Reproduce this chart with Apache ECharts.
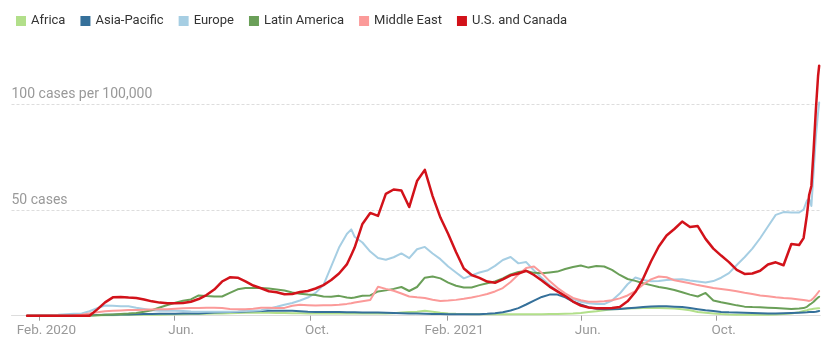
<!DOCTYPE html>
<html><head><meta charset="utf-8">
<script src="https://cdn.jsdelivr.net/npm/echarts@6/dist/echarts.min.js"></script>
<style>html,body{margin:0;padding:0;background:#fff}#c{width:831px;height:346px}</style>
</head><body><div id="c"></div>
<script>
// Weekly sample dates (plus a few extra points where the lines move fast)
const dates = [
'2020-01-21','2020-01-28','2020-02-04','2020-02-11','2020-02-18','2020-02-25','2020-03-03','2020-03-10','2020-03-17','2020-03-24',
'2020-03-31','2020-04-07','2020-04-14','2020-04-21','2020-04-28','2020-05-05','2020-05-12','2020-05-19','2020-05-26','2020-06-02',
'2020-06-09','2020-06-16','2020-06-23','2020-06-30','2020-07-07','2020-07-14','2020-07-21','2020-07-28','2020-08-04','2020-08-11',
'2020-08-18','2020-08-25','2020-09-01','2020-09-08','2020-09-15','2020-09-22','2020-09-29','2020-10-06','2020-10-13','2020-10-20',
'2020-10-27','2020-11-03','2020-11-07',
'2020-11-10','2020-11-17','2020-11-24','2020-12-01','2020-12-08','2020-12-15','2020-12-22','2020-12-29',
'2021-01-05','2021-01-12','2021-01-19','2021-01-26','2021-02-02','2021-02-09','2021-02-16','2021-02-23','2021-03-02','2021-03-09',
'2021-03-16','2021-03-23','2021-03-30','2021-04-06','2021-04-13','2021-04-20','2021-04-27','2021-05-04','2021-05-11','2021-05-18',
'2021-05-25','2021-06-01','2021-06-08','2021-06-15','2021-06-22','2021-06-29','2021-07-06','2021-07-13','2021-07-20','2021-07-27',
'2021-08-03','2021-08-10','2021-08-17','2021-08-24','2021-08-31','2021-09-07','2021-09-14','2021-09-21','2021-09-28','2021-10-05',
'2021-10-12','2021-10-19','2021-10-26','2021-11-02','2021-11-09','2021-11-16','2021-11-23','2021-11-30','2021-12-07','2021-12-14',
'2021-12-18','2021-12-21','2021-12-23','2021-12-25','2021-12-27','2021-12-29','2021-12-31','2022-01-01'
];

const africa = [
0,0,0,0,0,0,0,0,0,0.1,
0.2,0.2,0.3,0.3,0.4,0.4,0.5,0.5,0.6,0.7,
0.7,0.8,0.8,0.9,1.0,1.1,1.2,1.3,1.4,1.4,
1.4,1.4,1.3,1.3,1.2,1.2,1.1,1.1,1.0,1.0,
1.0,1.0,1.0,
1.0,1.0,1.0,1.0,1.1,1.2,1.5,1.8,
1.9,2.3,1.9,1.4,1.1,0.9,0.8,0.7,0.7,0.7,
0.7,0.7,0.7,0.7,0.7,0.7,0.7,0.8,0.8,0.9,
1.0,1.3,1.7,2.1,2.6,3.0,3.2,3.4,3.5,3.6,
3.6,3.6,3.5,3.4,3.1,2.6,1.8,1.4,1.1,0.8,
0.6,0.5,0.5,0.5,0.5,0.5,0.6,0.8,1.0,1.6,
2.2,2.6,2.9,3.1,3.3,3.4,3.5,3.5
];

const asiaPacific = [
0,0,0.1,0.1,0.1,0.1,0.1,0.1,0.1,0.3,
0.4,0.5,0.6,0.6,0.7,0.8,0.8,0.9,0.9,0.9,
1.0,1.1,1.1,1.3,1.5,1.6,1.8,1.8,2.0,2.1,
2.2,2.3,2.4,2.4,2.3,2.1,1.9,1.8,1.8,1.7,
1.7,1.6,1.6,
1.6,1.5,1.5,1.5,1.4,1.3,1.2,1.1,
1.0,0.9,0.8,0.8,0.7,0.7,0.7,0.7,0.7,0.9,
1.2,1.6,2.5,3.6,5.3,7.1,8.9,10.0,10.0,8.7,
6.7,5.3,4.0,3.3,3.0,3.0,3.2,3.5,3.8,4.1,
4.4,4.5,4.5,4.3,4.1,3.6,3.1,2.6,2.2,1.8,
1.6,1.5,1.4,1.3,1.2,1.1,1.1,1.2,1.3,1.4,
1.5,1.6,1.7,1.8,1.8,1.9,2.1,2.2
];

const europe = [
0.1,0.2,0.2,0.2,0.4,0.7,0.9,1.1,2.1,3.6,
4.8,4.7,4.5,4.5,3.8,3.2,2.6,2.4,2.4,2.3,
2.2,2.0,1.9,1.9,1.9,1.9,1.9,2.0,2.2,2.4,
2.6,3.3,4.2,5.2,6.0,7.2,8.6,10.8,14.5,23.4,
32.3,38.7,40.9,
37.4,34.7,30.4,27.3,26.5,27.7,29.5,27.3,
31.5,32.6,29.5,26.8,23.3,20.5,17.7,19.1,20.5,21.4,
23.6,26.4,27.8,24.8,25.4,21.4,17.9,14.5,11.7,9.3,
7.9,6.6,5.9,5.5,5.5,7.2,10.5,14.9,18.1,16.9,
16.3,16.4,16.9,17.2,17.3,16.7,16.2,15.7,16.4,18.0,
20.2,24.0,27.7,31.8,36.7,42.3,47.8,49.1,48.9,48.9,
50.3,54.6,55.5,52.0,68.1,84.7,96.1,101.0
];

const latinAmerica = [
0,0,0,0,0,0,0,0,0.1,0.2,
0.4,0.6,0.8,1.0,1.3,1.9,2.6,3.9,5.1,6.1,
7.1,7.7,9.6,9.3,9.1,9.1,10.8,12.5,13.1,13.1,
13.1,12.9,12.4,11.9,11.0,10.4,10.0,9.8,9.1,9.0,
9.4,8.6,8.4,
8.6,9.5,9.6,11.5,12.0,12.7,13.6,11.7,
13.6,18.0,18.6,17.7,15.7,14.2,13.4,13.4,14.5,15.4,
16.2,17.7,19.6,20.7,21.2,20.3,20.1,20.5,20.9,22.1,
23.1,23.8,22.8,23.6,23.3,21.7,19.3,17.4,16.5,15.4,
14.5,13.6,13.0,12.2,11.1,10.0,9.1,10.8,7.2,6.4,
5.7,4.9,4.3,4.1,4.0,3.8,3.6,3.4,3.2,3.4,
3.6,4.2,5.1,5.8,6.6,7.7,8.6,9.0
];

const middleEast = [
0,0,0,0,0,0,0.1,0.5,1.1,1.6,
2.1,2.3,2.5,2.7,2.7,2.8,2.9,3.0,3.0,3.3,
3.5,3.6,3.7,3.8,3.8,3.6,3.2,3.1,3.0,3.3,
3.8,3.8,3.6,3.7,4.7,5.2,5.0,4.8,4.9,5.0,
5.2,5.6,5.9,
6.3,6.9,7.4,13.7,12.7,11.8,10.5,9.1,
8.7,8.4,7.6,7.0,7.2,7.5,8.0,8.6,9.4,10.3,
11.5,13.1,16.0,19.5,22.6,23.3,20.2,16.4,13.2,10.6,
8.4,7.3,6.6,6.6,6.9,7.3,8.2,9.6,11.7,14.8,
17.2,18.6,18.2,16.8,16.1,15.4,14.5,13.8,13.1,12.7,
12.2,11.6,10.9,10.3,9.6,9.2,8.7,8.4,8.2,7.7,
7.4,7.2,7.0,7.4,8.4,9.6,11.0,11.7
];

const usCanada = [
0,0,0,0,0,0,0,0,0,3.0,
6.3,8.7,8.9,8.6,8.4,7.7,6.8,6.2,5.9,5.9,
6.0,6.6,7.9,9.8,12.4,16.2,18.2,18.0,16.3,14.3,
13.0,11.6,11.1,10.2,10.3,11.2,11.7,12.9,14.5,16.9,
20.0,24.3,28.8,
32.3,43.5,48.7,47.3,57.7,59.8,59.3,51.5,
63.8,69.1,56.7,46.5,38.7,30.2,22.4,19.3,17.9,16.2,
15.6,17.2,19.1,20.0,21.3,19.3,16.7,13.8,11.5,9.3,
6.7,4.8,3.9,3.5,3.5,3.6,4.1,6.8,11.2,17.6,
25.7,32.8,38.0,41.1,44.6,42.0,42.5,36.4,31.8,28.5,
25.4,21.7,19.8,20.0,21.3,24.3,25.3,23.9,34.0,33.5,
36.8,47.7,57.2,61.5,78.6,97.5,113.6,118.5
];

const seriesNames = ['Africa','Asia-Pacific','Europe','Latin America','Middle East','U.S. and Canada'];
const seriesColors = ['#b2df8a','#35709a','#a6cee3','#6a9f58','#fb9a99','#d2121a'];
const seriesValues = [africa, asiaPacific, europe, latinAmerica, middleEast, usCanada];

const axisStart = '2020-01-07';
const axisEnd = '2022-01-02';
const tickDates = ['2020-02-01','2020-06-01','2020-10-01','2021-02-01','2021-06-01','2021-10-01'];
const tickLabels = ['Feb. 2020','Jun.','Oct.','Feb. 2021','Jun.','Oct.'];
const yTicks = [50, 100];
const yTickLabels = ['50 cases','100 cases per 100,000'];

const ORIGIN = Date.UTC(2020, 1, 1);
function dayOf(s) {
  const p = s.split('-');
  return Math.round((Date.UTC(+p[0], +p[1] - 1, +p[2]) - ORIGIN) / 86400000);
}
const xs = dates.map(dayOf);
const tickDays = tickDates.map(dayOf);

const FONT = 'Roboto, "Liberation Sans", sans-serif';
const chart = echarts.init(document.getElementById('c'), null, {renderer: 'canvas'});
chart.setOption({
  animation: false,
  backgroundColor: '#fff',
  textStyle: {fontFamily: FONT},
  legend: {
    data: seriesNames,
    left: 11, top: 9,
    icon: 'rect', itemWidth: 10, itemHeight: 10, itemGap: 15,
    selectedMode: false,
    textStyle: {fontSize: 13, color: '#333', fontFamily: FONT, lineHeight: 14}
  },
  grid: {left: 11.5, right: 10.7, top: 62.5, bottom: 30.3, containLabel: false},
  xAxis: {
    type: 'value',
    min: dayOf(axisStart), max: dayOf(axisEnd),
    splitLine: {show: false},
    axisLine: {show: true, lineStyle: {color: '#ddd', width: 1}},
    axisTick: {show: true, customValues: tickDays, length: 5, lineStyle: {color: '#999'}},
    axisLabel: {
      customValues: tickDays,
      formatter: v => { const i = tickDays.indexOf(Math.round(v)); return i >= 0 ? tickLabels[i] : ''; },
      color: '#999', fontSize: 13.5, fontFamily: FONT, margin: 8, padding: [0, 0, 0, 14]
    }
  },
  yAxis: {
    type: 'value', min: 0, max: 120, interval: 50,
    axisLine: {show: false}, axisTick: {show: false},
    splitLine: {show: true, showMinLine: false, showMaxLine: false, lineStyle: {color: '#ddd', type: [3, 2], width: 1}},
    axisLabel: {
      inside: true, margin: 0, verticalAlign: 'bottom', align: 'left',
      padding: [0, 0, 3, 0],
      color: '#999', fontSize: 14, fontFamily: FONT,
      formatter: v => { const i = yTicks.indexOf(v); return i >= 0 ? yTickLabels[i] : ''; }
    }
  },
  series: seriesNames.map((name, s) => ({
    name: name,
    type: 'line',
    showSymbol: false,
    symbol: 'none',
    silent: true,
    color: seriesColors[s],
    lineStyle: {color: seriesColors[s], width: s === 5 ? 2.5 : 2, join: 'round', cap: 'round'},
    data: xs.map((x, i) => [x, seriesValues[s][i]])
  }))
});
</script>
</body></html>
